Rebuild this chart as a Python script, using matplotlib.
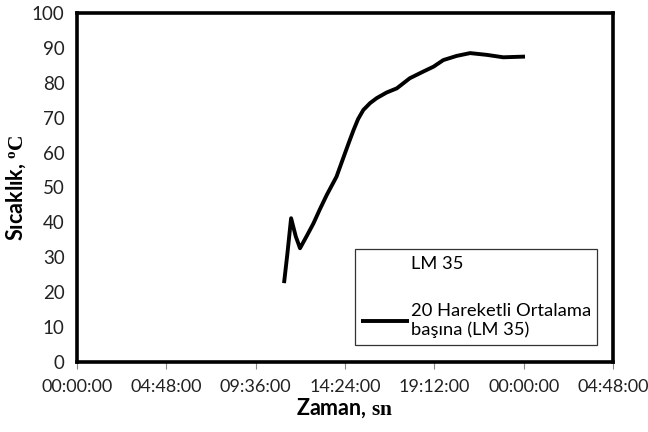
import matplotlib.pyplot as plt
from matplotlib.ticker import FixedLocator, FuncFormatter

plt.rcParams['font.family'] = ['Lato', 'DejaVu Sans']
plt.rcParams['mathtext.fontset'] = 'custom'
plt.rcParams['mathtext.bf'] = 'Liberation Serif:bold'
plt.rcParams['mathtext.rm'] = 'Liberation Serif'

# saat (24'ten sonrasi ertesi gun)
saat = [11.12, 11.30, 11.50, 11.75, 11.98, 12.35, 12.70, 13.05, 13.42, 13.94,
        14.30, 14.60, 14.86, 15.10, 15.38, 15.75, 16.10, 16.63, 17.18, 17.88,
        18.60, 19.15, 19.68, 20.40, 21.12, 22.01, 22.90, 24.07]
sicaklik = [22.6, 31.0, 41.2, 36.0, 32.6, 36.2, 39.7, 43.8, 47.9, 53.1,
            58.4, 62.8, 66.5, 69.6, 72.2, 74.2, 75.6, 77.2, 78.4, 81.3,
            83.2, 84.6, 86.5, 87.7, 88.5, 88.0, 87.3, 87.5]

xticks = [0, 0.2, 0.4, 0.6, 0.8, 1.0, 1.2]
yticks = list(range(0, 101, 10))

gun = [s / 24 for s in saat]


def fmt(v, pos):
    t = round((v % 1) * 86400)
    return "%02d:%02d:%02d" % (t // 3600, (t % 3600) // 60, t % 60)


fig = plt.figure(figsize=(6.48, 4.32), dpi=100)
ax = fig.add_axes([0.119, 0.162, 0.827, 0.808])

ax.plot([], [], linestyle='none', label='LM 35')
ax.plot(gun, sicaklik, color='black', lw=2.8, solid_capstyle='butt',
        solid_joinstyle='round', label='20 Hareketli Ortalama\nbaşına (LM 35)')

ax.set_xlim(0, 1.2)
ax.set_ylim(0, 100)
ax.xaxis.set_major_locator(FixedLocator(xticks))
ax.xaxis.set_major_formatter(FuncFormatter(fmt))
ax.set_yticks(yticks)

for s in ax.spines.values():
    s.set_linewidth(2.6)
    s.set_color('black')

ax.tick_params(axis='x', length=5, width=0.8, color='#888888', labelsize=13,
               labelcolor='#222222', pad=7)
ax.tick_params(axis='y', length=0, labelsize=13.5, labelcolor='#222222', pad=9)

ax.set_xlabel('Zaman, $\\mathbf{sn}$', fontsize=15.5, fontweight='bold', labelpad=1)
ax.set_ylabel('Sıcaklık, $\\mathbf{^{o}C}$', fontsize=15.5, fontweight='bold', labelpad=3)

leg = ax.legend(loc='lower right', bbox_to_anchor=(0.971, 0.05), fontsize=13.2,
                frameon=True, fancybox=False, edgecolor='black',
                handlelength=2.6, handletextpad=0.1, labelspacing=1.7,
                borderpad=0.35, borderaxespad=0)
leg.get_frame().set_linewidth(0.9)

fig.savefig('out.png', dpi=100)
